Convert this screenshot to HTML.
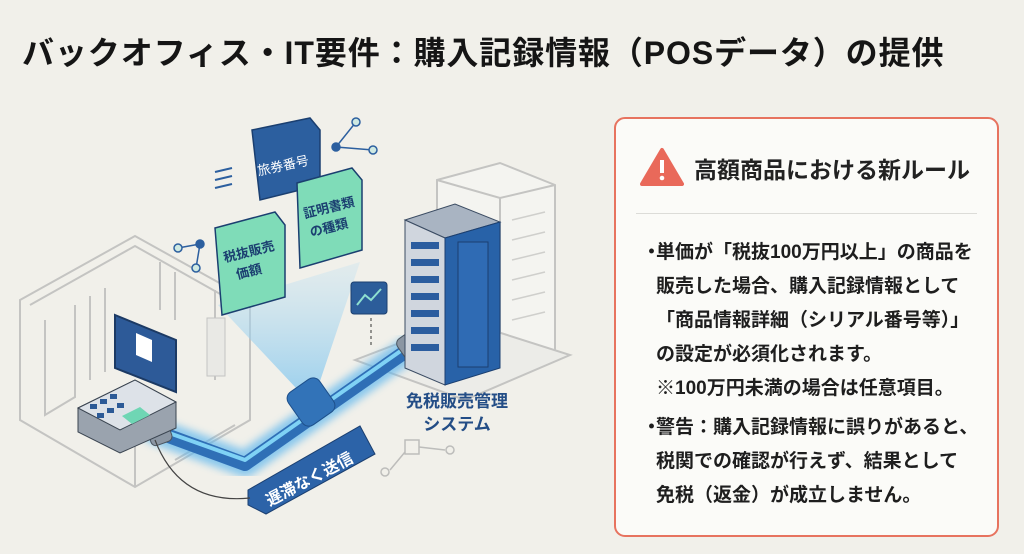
<!DOCTYPE html>
<html><head><meta charset="utf-8"><style>
body{margin:0;width:1024px;height:554px;background:#f1f0ea;overflow:hidden;font-family:"Liberation Sans","Noto Sans CJK JP",sans-serif;position:relative}
.t{position:absolute;left:22px;top:28px;font-size:32px;font-weight:bold;color:#151515;white-space:nowrap;letter-spacing:0.9px}
.card{position:absolute;left:614px;top:117px;width:385px;height:420px;border:2.5px solid #e7735f;border-radius:11px;background:#fbfbf8;box-sizing:border-box}
.ct{position:absolute;left:78px;top:32px;font-size:23px;font-weight:bold;color:#222;white-space:nowrap}
.sep{position:absolute;left:20px;right:20px;top:94px;height:1px;background:#dcdcd8}
.li{position:absolute;left:40px;font-size:19px;font-weight:bold;color:#1e1e1e;line-height:34px;white-space:nowrap}
.b{position:absolute;left:-14px}
</style></head><body>
<div class="t">バックオフィス・IT要件：購入記録情報（POSデータ）の提供</div>
<svg width="610" height="554" style="position:absolute;left:0;top:0" font-family="Liberation Sans,Noto Sans CJK JP,sans-serif">
<defs><linearGradient id="beam" x1="0" y1="0" x2="0" y2="1"><stop offset="0" stop-color="#bfe0f2" stop-opacity=".3"/><stop offset="1" stop-color="#7cc4ee" stop-opacity=".8"/></linearGradient>
<filter id="gl"><feGaussianBlur stdDeviation="4"/></filter></defs>
<g fill="none" stroke="#c4c4c2" stroke-width="2">
<path d="M20 300 L135 236 L250 300 L250 420 L135 487 L20 420 Z"/>
<path d="M30 305 L135 246 L245 308"/>
<path d="M45 320 L45 415 L75 397 L75 305 M90 296 L90 380 M105 288 L105 372 M160 262 L160 310 M175 272 L175 320 M215 290 L215 380"/>
<path d="M135 487 L135 440 M175 460 L235 425"/>
</g>
<rect x="207" y="318" width="18" height="58" fill="#e9e9e5" stroke="#c4c4c2"/>
<g stroke="#c4c4c2" stroke-width="2" fill="#f4f4f0">
<path d="M437 180 L500 163 L555 185 L555 350 L500 370 L437 350 Z"/>
<path d="M437 180 L500 198 L555 185 M500 198 L500 370" fill="none"/>
<path d="M355 360 L460 320 L570 355 L465 400 Z" fill="#ecece8"/>
</g>
<g stroke="#cfcfcc" stroke-width="1.5">
<line x1="512" y1="220" x2="545" y2="212"/><line x1="512" y1="240" x2="545" y2="232"/><line x1="512" y1="260" x2="545" y2="252"/><line x1="512" y1="280" x2="545" y2="272"/><line x1="512" y1="300" x2="545" y2="292"/><line x1="512" y1="320" x2="545" y2="312"/></g>
<path d="M218 305 L360 262 L312 405 Z" fill="url(#beam)"/>
<path d="M155 431 L245 464 L412 347" fill="none" stroke="#5fb7ee" stroke-width="26" stroke-linecap="round" stroke-linejoin="round" filter="url(#gl)" opacity=".7"/>
<path d="M155 431 L245 464 L412 347" fill="none" stroke="#2f6fb6" stroke-width="14" stroke-linejoin="round"/>
<path d="M155 428 L245 460 L412 343" fill="none" stroke="#7fd2f5" stroke-width="4" stroke-linejoin="round"/>
<rect x="292" y="382" width="38" height="40" rx="8" fill="#3273b8" stroke="#1d4f8a" transform="rotate(-35 311 402)"/>
<rect x="400" y="332" width="26" height="28" rx="6" fill="#8b96a3" stroke="#4a5560" transform="rotate(-35 413 346)"/>
<rect x="148" y="420" width="22" height="24" rx="5" fill="#8b96a3" stroke="#4a5560" transform="rotate(-20 159 432)"/>
<path d="M405 220 L455 204 L500 222 L500 368 L445 385 L405 368 Z" fill="#2d5a9a"/>
<path d="M405 220 L455 204 L500 222 L445 238 Z" fill="#a9b4c2" stroke="#3b4c63"/>
<path d="M405 220 L445 238 L445 385 L405 368 Z" fill="#d0d6de" stroke="#3b4c63"/>
<path d="M445 238 L500 222 L500 368 L445 385 Z" fill="#2862a8" stroke="#1b3f70"/>
<g fill="#2b5d9f"><rect x="411" y="242" width="28" height="7"/><rect x="411" y="259" width="28" height="7"/><rect x="411" y="276" width="28" height="7"/><rect x="411" y="293" width="28" height="7"/><rect x="411" y="310" width="28" height="7"/><rect x="411" y="327" width="28" height="7"/><rect x="411" y="344" width="28" height="7"/></g>
<rect x="458" y="242" width="30" height="125" fill="#2f6bb4" stroke="#1b3f70"/>
<rect x="351" y="282" width="36" height="32" rx="3" fill="#2c5d9a" stroke="#1b3f70"/>
<polyline points="357,305 365,295 371,300 381,289" fill="none" stroke="#8ee0d0" stroke-width="2"/>
<line x1="371" y1="318" x2="371" y2="345" stroke="#333" stroke-dasharray="3 3"/>
<path d="M78 408 L135 380 L176 402 L176 428 L120 453 L78 432 Z" fill="#9aa3ae" stroke="#3a4450"/>
<path d="M78 408 L135 380 L176 402 L120 430 Z" fill="#dde2e8" stroke="#3a4450"/>
<g fill="#2c5a96"><rect x="90" y="404" width="7" height="5"/><rect x="100" y="399" width="7" height="5"/><rect x="110" y="394" width="7" height="5"/><rect x="97" y="413" width="7" height="5"/><rect x="107" y="408" width="7" height="5"/><rect x="117" y="403" width="7" height="5"/></g>
<path d="M122 416 L140 407 L150 415 L132 424 Z" fill="#6fd6b4"/>
<path d="M115 315 L176 340 L176 392 L115 368 Z" fill="#2d5a98" stroke="#1c3a64" stroke-width="2"/>
<path d="M136 333 L152 340 L152 362 L136 355 Z" fill="#fff"/>
<path d="M252 130 L310 118 L320 130 L320 185 L260 200 Z" fill="#2c5f9f" stroke="#1b3f70" stroke-width="1.5"/>
<text x="284" y="170" font-size="13" fill="#fff" text-anchor="middle" transform="rotate(-12 284 170)">旅券番号</text>
<path d="M215 228 L275 212 L285 225 L285 297 L222 315 Z" fill="#7fdcb8" stroke="#1b3f70" stroke-width="1.5"/>
<text x="250" y="256" font-size="13" fill="#1b3f70" text-anchor="middle" font-weight="bold" transform="rotate(-14 250 256)">税抜販売</text>
<text x="250" y="276" font-size="13" fill="#1b3f70" text-anchor="middle" font-weight="bold" transform="rotate(-14 250 276)">価額</text>
<path d="M297 183 L352 168 L362 180 L362 250 L300 268 Z" fill="#7fdcb8" stroke="#1b3f70" stroke-width="1.5"/>
<text x="330" y="212" font-size="13" fill="#1b3f70" text-anchor="middle" font-weight="bold" transform="rotate(-14 330 212)">証明書類</text>
<text x="330" y="232" font-size="13" fill="#1b3f70" text-anchor="middle" font-weight="bold" transform="rotate(-14 330 232)">の種類</text>
<g stroke="#2c5f9f" stroke-width="1.5" fill="#cfe9e2"><line x1="178" y1="248" x2="200" y2="244"/><line x1="200" y1="244" x2="196" y2="268"/><circle cx="178" cy="248" r="4"/><circle cx="200" cy="244" r="4" fill="#2c5f9f"/><circle cx="196" cy="268" r="4"/>
<line x1="336" y1="147" x2="356" y2="122"/><line x1="336" y1="147" x2="373" y2="150"/><circle cx="356" cy="122" r="4"/><circle cx="336" cy="147" r="4" fill="#2c5f9f"/><circle cx="373" cy="150" r="4"/></g>
<g stroke="#2c5f9f" stroke-width="2"><line x1="215" y1="172" x2="232" y2="168"/><line x1="215" y1="180" x2="232" y2="176"/><line x1="215" y1="188" x2="232" y2="184"/></g>
<path d="M248 490 L360 426 L375 454 L266 514 L248 505 Z" fill="#2c63a8" stroke="#1b3f70"/>
<text x="312" y="484" font-size="16" fill="#fff" font-weight="bold" text-anchor="middle" transform="rotate(-28 312 484)">遅滞なく送信</text>
<path d="M155 440 Q180 505 250 498" fill="none" stroke="#444" stroke-width="1.2"/>
<g stroke="#bdbdbb" fill="none" stroke-width="1.5"><rect x="405" y="440" width="14" height="14"/><line x1="390" y1="470" x2="405" y2="452"/><circle cx="385" cy="472" r="4"/><line x1="419" y1="447" x2="445" y2="450"/><circle cx="450" cy="450" r="4"/></g>
<text x="457" y="407" font-size="17" font-weight="bold" fill="#234d86" text-anchor="middle">免税販売管理</text>
<text x="457" y="430" font-size="17" font-weight="bold" fill="#234d86" text-anchor="middle">システム</text>
</svg>
<div class="card">
<svg style="position:absolute;left:24px;top:28px" width="44" height="40"><path d="M22 3 L42 37 L2 37 Z" fill="#e9695a" stroke="#e9695a" stroke-width="4" stroke-linejoin="round"/><rect x="20" y="13" width="4" height="13" fill="#fff"/><circle cx="22" cy="31" r="2.3" fill="#fff"/></svg>
<div class="ct">高額商品における新ルール</div>
<div class="sep"></div>
<div class="li" style="top:117px"><span class="b">・</span>単価が「税抜100万円以上」の商品を<br>販売した場合、購入記録情報として<br>「商品情報詳細（シリアル番号等）」<br>の設定が必須化されます。<br>※100万円未満の場合は任意項目。</div>
<div class="li" style="top:292px"><span class="b">・</span>警告：購入記録情報に誤りがあると、<br>税関での確認が行えず、結果として<br>免税（返金）が成立しません。</div>
</div>
</body></html>
